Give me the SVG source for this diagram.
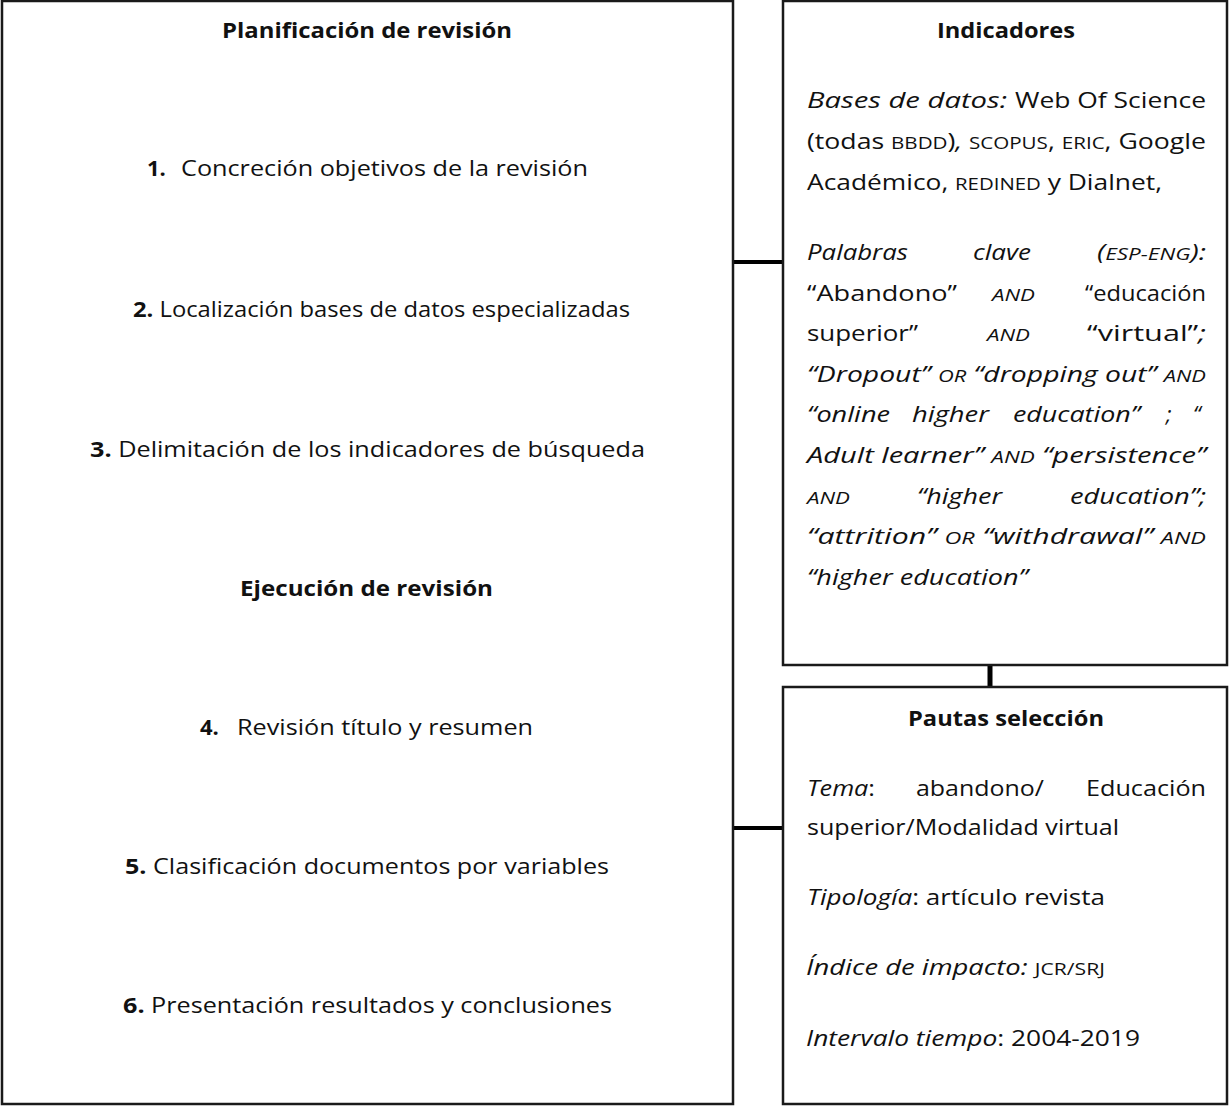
<svg xmlns="http://www.w3.org/2000/svg" width="1230" height="1106" viewBox="0 0 1230 1106">
<style>
.box{fill:#fff;stroke:#1a1a1a;stroke-width:2.5}
.con{stroke:#000;fill:none}
.t{font-family:"Open Sans","Noto Sans","Liberation Sans",sans-serif;font-size:22px;fill:#111}
.b{font-weight:bold}
.i{font-style:italic}
.s{font-size:17px}
</style>
<rect width="1230" height="1106" fill="#fff"/>
<g id="connectors">
<line class="con" x1="733" y1="262" x2="783" y2="262" stroke-width="4"/>
<line class="con" x1="733" y1="828" x2="783" y2="828" stroke-width="4"/>
<line class="con" x1="990" y1="665" x2="990" y2="688" stroke-width="5"/>
</g>
<g id="planificacion">
<rect class="box" x="2" y="1" width="731" height="1103"/>
<text class="t b" x="222" y="38" textLength="290" lengthAdjust="spacingAndGlyphs">Planificación de revisión</text>
<text class="t b" x="147" y="176">1.</text>
<text class="t" x="181" y="176" textLength="407" lengthAdjust="spacingAndGlyphs">Concreción objetivos de la revisión</text>
<text class="t" x="133" y="317" textLength="497" lengthAdjust="spacingAndGlyphs"><tspan class="b">2.</tspan> Localización bases de datos especializadas</text>
<text class="t" x="90" y="457" textLength="555" lengthAdjust="spacingAndGlyphs"><tspan class="b">3.</tspan> Delimitación de los indicadores de búsqueda</text>
<text class="t b" x="240" y="596" textLength="253" lengthAdjust="spacingAndGlyphs">Ejecución de revisión</text>
<text class="t b" x="200" y="735">4.</text>
<text class="t" x="237" y="735" textLength="296" lengthAdjust="spacingAndGlyphs">Revisión título y resumen</text>
<text class="t" x="125" y="874" textLength="484" lengthAdjust="spacingAndGlyphs"><tspan class="b">5.</tspan> Clasificación documentos por variables</text>
<text class="t" x="123" y="1013" textLength="489" lengthAdjust="spacingAndGlyphs"><tspan class="b">6.</tspan> Presentación resultados y conclusiones</text>
</g>
<g id="indicadores">
<rect class="box" x="783" y="1" width="444" height="664"/>
<text class="t b" x="937" y="38" textLength="138" lengthAdjust="spacingAndGlyphs">Indicadores</text>
<text class="t i" x="807" y="108" textLength="200" lengthAdjust="spacingAndGlyphs">Bases de datos:</text>
<text class="t" x="1015" y="108" textLength="191" lengthAdjust="spacingAndGlyphs">Web Of Science</text>
<text class="t" x="807" y="149" textLength="399" lengthAdjust="spacingAndGlyphs">(todas <tspan class="s">BBDD</tspan>)<tspan class="i">,</tspan> <tspan class="s">SCOPUS</tspan>, <tspan class="s">ERIC</tspan>, Google</text>
<text class="t" x="807" y="190" textLength="355" lengthAdjust="spacingAndGlyphs">Académico,  <tspan class="s">REDINED</tspan> y Dialnet,</text>
<text class="t i" x="807" y="260" textLength="101" lengthAdjust="spacingAndGlyphs">Palabras</text>
<text class="t i" x="973" y="260" textLength="58" lengthAdjust="spacingAndGlyphs">clave</text>
<text class="t i" x="1097" y="260" textLength="109" lengthAdjust="spacingAndGlyphs">(<tspan class="s">ESP-ENG</tspan>):</text>
<text class="t" x="807" y="301" textLength="150" lengthAdjust="spacingAndGlyphs">“Abandono”</text>
<text class="t i s" x="992" y="301" textLength="43" lengthAdjust="spacingAndGlyphs">AND</text>
<text class="t" x="1085" y="301" textLength="121" lengthAdjust="spacingAndGlyphs">“educación</text>
<text class="t" x="807" y="341" textLength="111" lengthAdjust="spacingAndGlyphs">superior”</text>
<text class="t i s" x="987" y="341" textLength="43" lengthAdjust="spacingAndGlyphs">AND</text>
<text class="t" x="1087" y="341" textLength="119" lengthAdjust="spacingAndGlyphs">“virtual”<tspan class="i">;</tspan></text>
<text class="t i" x="807" y="382" textLength="399" lengthAdjust="spacingAndGlyphs">“Dropout” <tspan class="s">OR</tspan> “dropping out” <tspan class="s">AND</tspan></text>
<text class="t i" x="807" y="422" textLength="83" lengthAdjust="spacingAndGlyphs">“online</text>
<text class="t i" x="912" y="422" textLength="77" lengthAdjust="spacingAndGlyphs">higher</text>
<text class="t i" x="1013" y="422" textLength="127" lengthAdjust="spacingAndGlyphs">education”</text>
<text class="t i" x="1166" y="422">;</text>
<text class="t i" x="1193" y="422">“</text>
<text class="t i" x="807" y="463" textLength="399" lengthAdjust="spacingAndGlyphs">Adult learner” <tspan class="s">AND</tspan> “persistence”</text>
<text class="t i s" x="807" y="504" textLength="43" lengthAdjust="spacingAndGlyphs">AND</text>
<text class="t i" x="917" y="504" textLength="85" lengthAdjust="spacingAndGlyphs">“higher</text>
<text class="t i" x="1070" y="504" textLength="136" lengthAdjust="spacingAndGlyphs">education”;</text>
<text class="t i" x="807" y="544" textLength="399" lengthAdjust="spacingAndGlyphs">“attrition” <tspan class="s">OR</tspan> “withdrawal” <tspan class="s">AND</tspan></text>
<text class="t i" x="807" y="585" textLength="221" lengthAdjust="spacingAndGlyphs">“higher education”</text>
</g>
<g id="pautas">
<rect class="box" x="783" y="687" width="444" height="417"/>
<text class="t b" x="908" y="726" textLength="196" lengthAdjust="spacingAndGlyphs">Pautas selección</text>
<text class="t" x="807" y="796" textLength="68" lengthAdjust="spacingAndGlyphs"><tspan class="i">Tema</tspan>:</text>
<text class="t" x="916" y="796" textLength="128" lengthAdjust="spacingAndGlyphs">abandono/</text>
<text class="t" x="1086" y="796" textLength="120" lengthAdjust="spacingAndGlyphs">Educación</text>
<text class="t" x="807" y="835" textLength="312" lengthAdjust="spacingAndGlyphs">superior/Modalidad virtual</text>
<text class="t" x="807" y="905" textLength="298" lengthAdjust="spacingAndGlyphs"><tspan class="i">Tipología</tspan>: artículo revista</text>
<text class="t" x="806" y="975" textLength="299" lengthAdjust="spacingAndGlyphs"><tspan class="i">Índice de impacto:</tspan> <tspan class="s">JCR/SRJ</tspan></text>
<text class="t" x="806" y="1046" textLength="334" lengthAdjust="spacingAndGlyphs"><tspan class="i">Intervalo tiempo</tspan>: 2004-2019</text>
</g>
</svg>
